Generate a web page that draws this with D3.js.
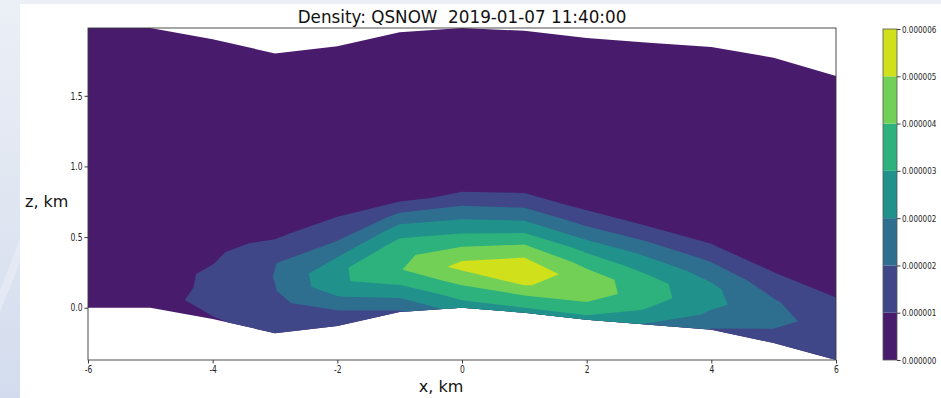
<!DOCTYPE html>
<html>
<head>
<meta charset="utf-8">
<script src="https://cdn.jsdelivr.net/npm/d3@7"></script>
<style>
  html, body { margin: 0; padding: 0; background: #e7ecf5; }
  svg { display: block; }
</style>
</head>
<body>
<svg id="chart" width="941" height="398"></svg>
<script>
// Column positions along the cross-section (km)
const xKm = [-6, -5, -4, -3, -2, -1, 0, 1, 2, 3, 4, 5, 6];
// Terrain height under each column (km)
const groundKm = [0, 0, -0.08, -0.18, -0.13, -0.03, 0, -0.035, -0.085, -0.12, -0.155, -0.25, -0.37];
// Model top over each column (km)
const topKm = [1.98, 1.98, 1.90, 1.80, 1.85, 1.95, 1.98, 1.96, 1.91, 1.875, 1.845, 1.77, 1.64];
// Terrain-following levels, as a fraction of the column depth
const sigma = [0, 0.05, 0.1, 0.15, 0.2, 0.25, 0.3, 0.35, 0.4, 0.45, 0.5, 0.6, 0.75, 1.0];

// QSNOW per column (1e-6 kg/kg), listed from the lowest level upward
const qsnowCol_m6 = [0.25, 0.30, 0.30, 0.27, 0.23, 0.19, 0.15, 0.12, 0.10, 0.08, 0.06, 0.03, 0.01, 0];
const qsnowCol_m5 = [0.45, 0.55, 0.40, 0.30, 0.22, 0.18, 0.15, 0.12, 0.10, 0.08, 0.06, 0.03, 0.01, 0];
const qsnowCol_m4 = [0.75, 1.00, 0.98, 0.98, 0.78, 0.60, 0.45, 0.35, 0.27, 0.20, 0.15, 0.08, 0.03, 0];
const qsnowCol_m3 = [0.95, 1.15, 1.35, 1.56, 1.63, 1.58, 1.05, 0.70, 0.50, 0.38, 0.28, 0.15, 0.05, 0];
const qsnowCol_m2 = [1.20, 1.50, 2.30, 3.00, 3.05, 2.35, 1.65, 1.15, 0.72, 0.50, 0.36, 0.20, 0.07, 0];
const qsnowCol_m1 = [1.50, 2.40, 3.25, 3.95, 3.90, 3.40, 2.65, 1.70, 0.70, 0.45, 0.32, 0.17, 0.06, 0];
const qsnowCol_0  = [2.80, 3.55, 4.30, 5.05, 4.30, 3.45, 2.65, 1.90, 0.90, 0.55, 0.40, 0.22, 0.08, 0];
const qsnowCol_1  = [2.90, 3.75, 4.85, 5.30, 4.75, 3.85, 2.85, 2.00, 1.10, 0.50, 0.40, 0.22, 0.08, 0];
const qsnowCol_2  = [2.90, 3.85, 4.45, 4.40, 3.75, 3.00, 2.10, 1.30, 0.65, 0.45, 0.33, 0.20, 0.07, 0];
const qsnowCol_3  = [2.30, 3.10, 3.55, 3.50, 2.90, 2.25, 1.50, 0.78, 0.50, 0.38, 0.28, 0.17, 0.06, 0];
const qsnowCol_4  = [1.55, 2.25, 2.62, 2.55, 2.10, 1.45, 0.82, 0.55, 0.42, 0.32, 0.24, 0.14, 0.05, 0];
const qsnowCol_5  = [1.20, 1.60, 1.78, 1.65, 1.25, 0.78, 0.50, 0.38, 0.30, 0.24, 0.18, 0.10, 0.04, 0];
const qsnowCol_6  = [0.95, 1.20, 1.32, 1.20, 0.92, 0.62, 0.45, 0.33, 0.26, 0.20, 0.15, 0.08, 0.03, 0];

// Contour levels (1e-6 kg/kg)
const levels = [0, 0.8, 1.6, 2.4, 3.2, 4.0, 4.8, 5.6];
// Axis ticks
const xTicks = [-6, -4, -2, 0, 2, 4, 6];
const zTicks = [0.0, 0.5, 1.0, 1.5];

const titleText = "Density: QSNOW  2019-01-07 11:40:00";

// ---------------------------------------------------------------
const qsnow = [qsnowCol_m6, qsnowCol_m5, qsnowCol_m4, qsnowCol_m3, qsnowCol_m2, qsnowCol_m1,
               qsnowCol_0, qsnowCol_1, qsnowCol_2, qsnowCol_3, qsnowCol_4, qsnowCol_5, qsnowCol_6];

const W = 941, H = 398;
const plot = { left: 88, right: 836, top: 28, bottom: 360 };
const tickFont = "DejaVu Sans";
const squeeze = 0.76;     // narrow tick lettering

const svg = d3.select("#chart");

// page backdrop and white figure sheet
const defs = svg.append("defs");
const shade = defs.append("linearGradient").attr("id", "pageShade")
  .attr("x1", 0).attr("y1", 0).attr("x2", 0).attr("y2", 1);
shade.append("stop").attr("offset", "0%").attr("stop-color", "#ebeff6");
shade.append("stop").attr("offset", "55%").attr("stop-color", "#dfe5f1");
shade.append("stop").attr("offset", "100%").attr("stop-color", "#d3dcee");
svg.append("rect").attr("width", W).attr("height", H).attr("fill", "url(#pageShade)");
svg.append("path").attr("d", "M0,290 L20,238 L20,262 L0,312 Z").attr("fill", "#e4e9f4");
svg.append("rect").attr("x", 20).attr("y", 4).attr("width", W - 20).attr("height", H - 4).attr("fill", "#ffffff");

// scales
const x = d3.scaleLinear().domain(d3.extent(xKm)).range([plot.left, plot.right]);
const y = d3.scaleLinear().domain([d3.min(groundKm), d3.max(topKm)]).range([plot.bottom, plot.top]);

const nx = xKm.length, ny = sigma.length;
const zNode = (i, j) => groundKm[i] + sigma[j] * (topKm[i] - groundKm[i]);

function xAt(gi) {
  const i0 = Math.floor(gi), i1 = Math.min(i0 + 1, nx - 1), f = gi - i0;
  return xKm[i0] + f * (xKm[i1] - xKm[i0]);
}
function zAt(gi, gj) {
  const i0 = Math.floor(gi), i1 = Math.min(i0 + 1, nx - 1), fi = gi - i0;
  const j0 = Math.floor(gj), j1 = Math.min(j0 + 1, ny - 1), fj = gj - j0;
  const a = zNode(i0, j0) * (1 - fi) + zNode(i1, j0) * fi;
  const b = zNode(i0, j1) * (1 - fi) + zNode(i1, j1) * fi;
  return a * (1 - fj) + b * fj;
}

// grid (column, level) -> screen, through the terrain-following coordinates
const gridToScreen = d3.geoTransform({
  point(cx, cy) {
    const gi = Math.max(0, Math.min(nx - 1, cx - 0.5));
    const gj = Math.max(0, Math.min(ny - 1, cy - 0.5));
    this.stream.point(x(xAt(gi)), y(zAt(gi, gj)));
  }
});
const path = d3.geoPath(gridToScreen);

const flat = new Array(nx * ny);
for (let i = 0; i < nx; i++) for (let j = 0; j < ny; j++) flat[j * nx + i] = qsnow[i][j];

const nBands = levels.length - 1;
const bandColor = d3.range(nBands).map(k => d3.interpolateViridis((k + 0.5) / nBands));
const bands = d3.contours().size([nx, ny]).thresholds(levels.slice(0, -1))(flat);

svg.append("g")
  .selectAll("path")
  .data(bands)
  .join("path")
  .attr("d", path)
  .attr("fill", (d, k) => bandColor[k])
  .attr("fill-rule", "evenodd");

// axes frame
svg.append("rect")
  .attr("x", plot.left).attr("y", plot.top)
  .attr("width", plot.right - plot.left).attr("height", plot.bottom - plot.top)
  .attr("fill", "none").attr("stroke", "#3a3a3a").attr("stroke-width", 0.9);

const xAxis = d3.axisBottom(x).tickValues(xTicks)
  .tickFormat(d => d3.format("d")(d).replace("\u2212", "-"))
  .tickSize(3.5).tickSizeOuter(0).tickPadding(2);
const gx = svg.append("g").attr("transform", `translate(0,${plot.bottom})`).call(xAxis);
gx.select(".domain").remove();
gx.selectAll("line").attr("stroke", "#3a3a3a");
gx.selectAll("text").attr("font-family", tickFont).attr("font-size", 10)
  .attr("fill", "#222").attr("transform", `scale(${squeeze},1)`);

const yAxis = d3.axisLeft(y).tickValues(zTicks).tickFormat(d3.format(".1f"))
  .tickSize(3.5).tickSizeOuter(0);
const gy = svg.append("g").attr("transform", `translate(${plot.left},0)`).call(yAxis);
gy.select(".domain").remove();
gy.selectAll("line").attr("stroke", "#3a3a3a");
gy.selectAll("text").attr("font-family", tickFont).attr("font-size", 10)
  .attr("fill", "#222").attr("x", -5.5 / squeeze).attr("transform", `scale(${squeeze},1)`);

// titles
svg.append("text").attr("x", (plot.left + plot.right) / 2).attr("y", 23)
  .attr("text-anchor", "middle").attr("font-family", "DejaVu Sans").attr("font-size", 16.8)
  .attr("fill", "#111").attr("xml:space", "preserve").style("white-space", "pre")
  .text(titleText);
svg.append("text").attr("x", 441).attr("y", 392)
  .attr("text-anchor", "middle").attr("font-family", "DejaVu Sans").attr("font-size", 16)
  .attr("fill", "#111").text("x, km");
svg.append("text").attr("x", 25).attr("y", 207)
  .attr("text-anchor", "start").attr("font-family", "DejaVu Sans").attr("font-size", 16)
  .attr("fill", "#111").text("z, km");

// colour bar
const cb = { left: 883, right: 897, top: 29, bottom: 360 };
const cbScale = d3.scaleLinear().domain([levels[0], levels[levels.length - 1]]).range([cb.bottom, cb.top]);
const gcb = svg.append("g");
gcb.selectAll("rect.band")
  .data(d3.range(nBands))
  .join("rect")
  .attr("class", "band")
  .attr("x", cb.left)
  .attr("width", cb.right - cb.left)
  .attr("y", k => cbScale(levels[k + 1]))
  .attr("height", k => cbScale(levels[k]) - cbScale(levels[k + 1]))
  .attr("fill", k => bandColor[k]);
gcb.append("rect")
  .attr("x", cb.left).attr("y", cb.top)
  .attr("width", cb.right - cb.left).attr("height", cb.bottom - cb.top)
  .attr("fill", "none").attr("stroke", "#555").attr("stroke-width", 0.8);
const cbAxis = d3.axisRight(cbScale).tickValues(levels)
  .tickFormat(v => d3.format(".6f")(v * 1e-6))
  .tickSize(3.5).tickSizeOuter(0).tickPadding(2);
const gca = svg.append("g").attr("transform", `translate(${cb.right},0)`).call(cbAxis);
gca.select(".domain").remove();
gca.selectAll("line").attr("stroke", "#3a3a3a");
gca.selectAll("text").attr("font-family", tickFont).attr("font-size", 9.5)
  .attr("fill", "#222").attr("x", 5 / squeeze).attr("transform", `scale(${squeeze},1)`);
</script>
</body>
</html>
